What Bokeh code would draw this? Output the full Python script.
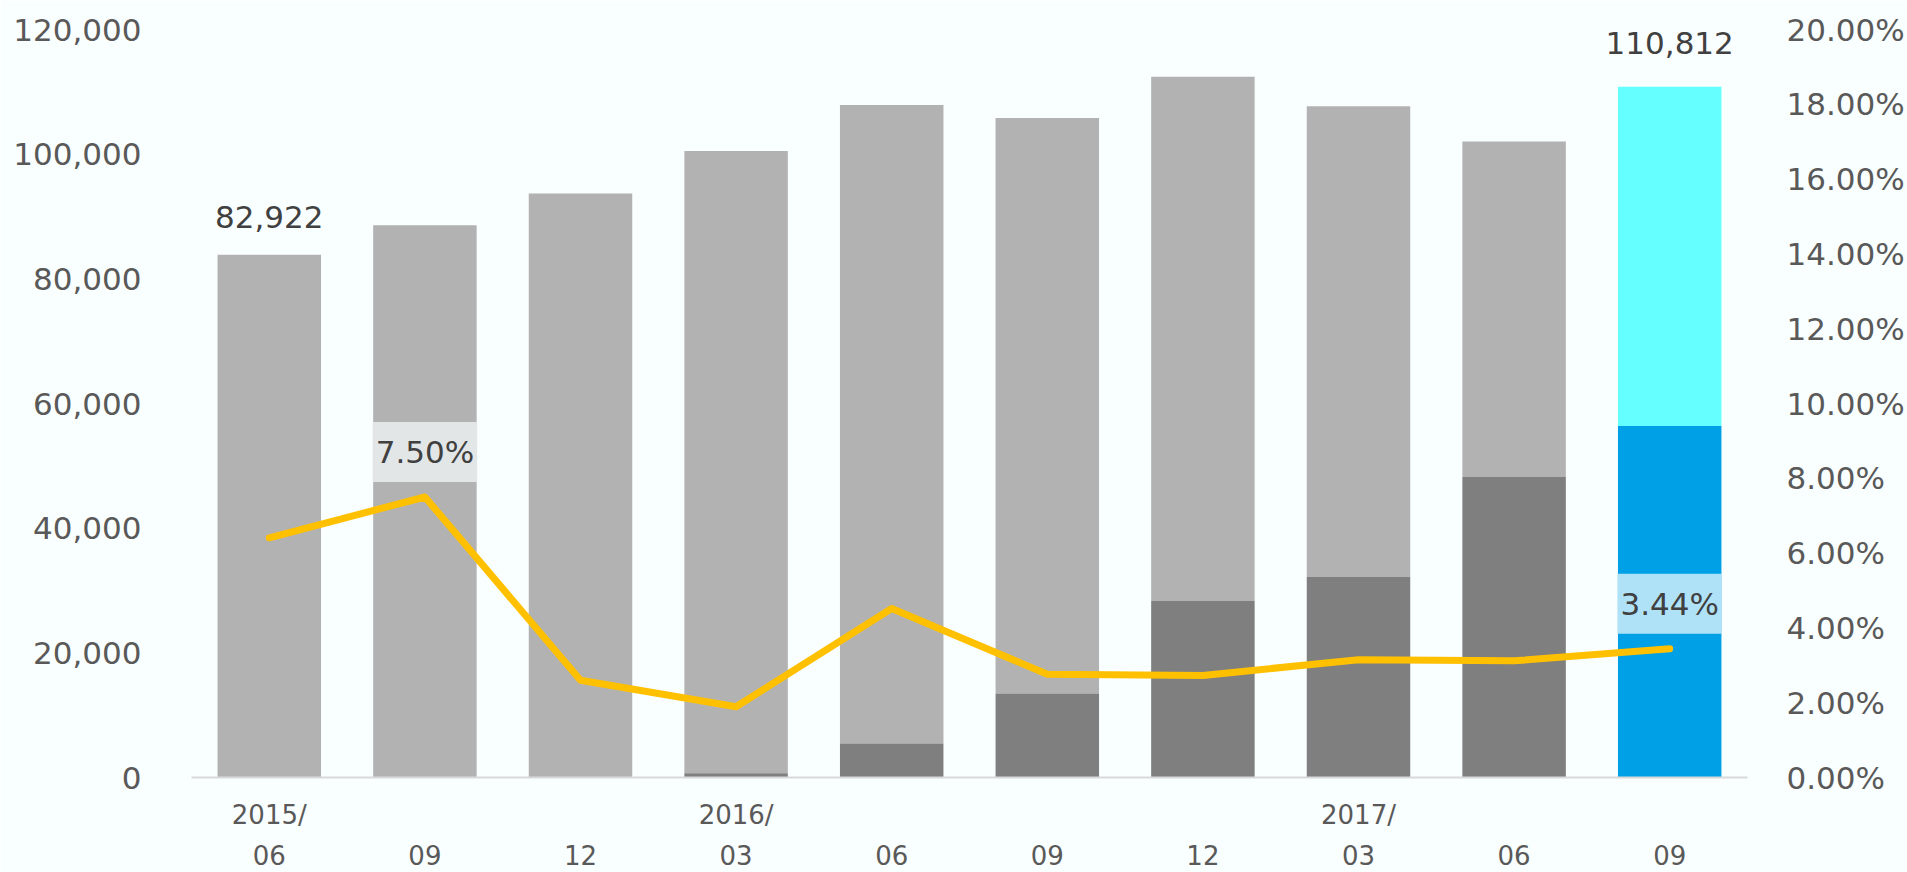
from bokeh.plotting import figure
from bokeh.models import (Range1d, LinearAxis, NumeralTickFormatter, SingleIntervalTicker,
                          FixedTicker, Label)
from bokeh.embed import file_html
from bokeh.resources import INLINE

# ---- data ----
periods = ["2015/06", "2015/09", "2015/12", "2016/03", "2016/06",
           "2016/09", "2016/12", "2017/03", "2017/06", "2017/09"]
year_labels = ["2015/", "", "", "2016/", "", "", "", "2017/", "", ""]
month_labels = ["06", "09", "12", "03", "06", "09", "12", "03", "06", "09"]
totals = [83850, 88600, 93700, 100500, 107900, 105800, 112400, 107700, 102050, 110812]
lower = [0, 0, 0, 700, 5460, 13460, 28300, 32200, 48200, 56390]
rates = [0.0641, 0.0750, 0.0260, 0.0189, 0.0452, 0.0276, 0.0273, 0.0315, 0.0312, 0.0344]
total_labels = {0: 82922, 9: 110812}
rate_labels = [1, 9]

BG = "#F9FEFE"
FONT = "DejaVu Sans"

n = len(periods)
xs = [i + 0.5 for i in range(n)]  # slot centres on a linear x scale

p = figure(x_range=Range1d(0, n), y_range=Range1d(0, 120000),
           width=1907, height=872, output_backend="svg", toolbar_location=None,
           min_border_left=191, min_border_right=160, min_border_top=29, min_border_bottom=95)
p.extra_y_ranges = {"pct": Range1d(0, 0.20)}
p.background_fill_color = BG
p.border_fill_color = BG
p.outline_line_color = None
p.xgrid.visible = False
p.ygrid.visible = False

upper_colors = ["#B2B2B2"] * (n - 1) + ["#66FFFF"]
lower_colors = ["#7F7F7F"] * (n - 1) + ["#00A0E6"]

p.vbar(x=xs, bottom=lower, top=totals, width=0.665, color=upper_colors, line_color=None)
p.vbar(x=xs, bottom=0, top=lower, width=0.665, color=lower_colors, line_color=None)
p.line(x=xs, y=rates, y_range_name="pct", line_color="#FFC000", line_width=7,
       line_cap="round", line_join="round")

# left axis
ya = p.yaxis[0]
ya.ticker = SingleIntervalTicker(interval=20000)
ya.formatter = NumeralTickFormatter(format="0,0")

ra = LinearAxis(y_range_name="pct", ticker=SingleIntervalTicker(interval=0.02),
                formatter=NumeralTickFormatter(format="0.00%"))
p.add_layout(ra, "right")

for ax in (ya, ra):
    ax.axis_line_color = None
    ax.major_tick_line_color = None
    ax.minor_tick_line_color = None
    ax.major_label_text_font = FONT
    ax.major_label_text_font_size = "31px"
    ax.major_label_text_color = "#595959"
ya.major_label_standoff = 44
ra.major_label_standoff = 33

# x axis: years line (closest) and months line
xa = p.xaxis[0]
year_ticks = [x for x, t in zip(xs, year_labels) if t]
xa.ticker = FixedTicker(ticks=year_ticks)
xa.major_label_overrides = {x: t for x, t in zip(xs, year_labels) if t}
xa.axis_line_color = "#D9D9D9"
xa.axis_line_width = 2
xa.major_label_standoff = 16

ma = LinearAxis(ticker=FixedTicker(ticks=xs),
                major_label_overrides=dict(zip(xs, month_labels)))
ma.axis_line_color = None
ma.major_label_standoff = 6
p.add_layout(ma, "below")

for ax in (xa, ma):
    ax.major_tick_line_color = None
    ax.minor_tick_line_color = None
    ax.major_label_text_font = FONT
    ax.major_label_text_font_size = "26px"
    ax.major_label_text_color = "#595959"

for i, v in total_labels.items():
    p.add_layout(Label(x=xs[i], y=v, text=f"{v:,}", y_offset=44,
                       text_align="center", text_baseline="middle",
                       text_font=FONT, text_font_size="31px", text_color="#404040"))

box_colors = {1: "#E3E6E7", 9: "#B0E2F7"}
for i in rate_labels:
    p.add_layout(Label(x=xs[i], y=rates[i], y_range_name="pct",
                       text=f"{rates[i]*100:.2f}%", y_offset=45,
                       text_align="center", text_baseline="middle",
                       background_fill_color=box_colors[i], padding=(3, 12),
                       text_font=FONT, text_font_size="31px", text_color="#404040"))

open("out.html", "w").write(file_html(p, INLINE))
